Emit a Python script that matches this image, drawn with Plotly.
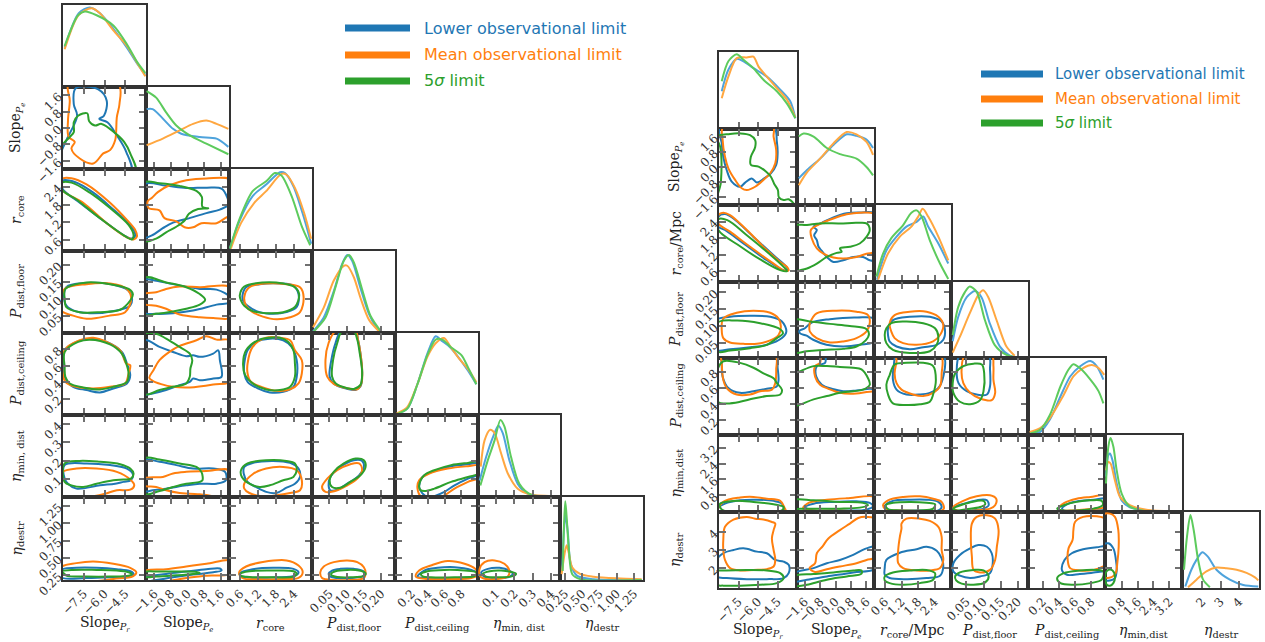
import plotly.graph_objects as go

W, H = 1265, 642

# ---------------- axis labels / ranges / ticks ----------------
LABELS_L = ["Slope<sub><i>P<sub>r</sub></i></sub>", "Slope<sub><i>P<sub>e</sub></i></sub>",
            "<i>r</i><sub>core</sub>", "<i>P</i><sub>dist,floor</sub>", "<i>P</i><sub>dist,ceiling</sub>",
            "<i>η</i><sub>min, dist</sub>", "<i>η</i><sub>destr</sub>"]
LABELS_R = ["Slope<sub><i>P<sub>r</sub></i></sub>", "Slope<sub><i>P<sub>e</sub></i></sub>",
            "<i>r</i><sub>core</sub>/Mpc", "<i>P</i><sub>dist,floor</sub>", "<i>P</i><sub>dist,ceiling</sub>",
            "<i>η</i><sub>min,dist</sub>", "<i>η</i><sub>destr</sub>"]

RANGES_L = [[-9, -3], [-2, 2], [0.23, 3.0], [0.0, 0.24], [0.0, 1.0], [0.0, 0.45], [0.18, 1.38]]
RANGES_R = [[-9, -3], [-2, 2], [0.2, 3.0], [0.005, 0.23], [0.02, 0.97], [-0.04, 3.84], [0.9, 5.1]]

TICKS_SLOPE_PR = [-7.5, -6.0, -4.5]
TICKTXT_SLOPE_PR = ["−7.5", "−6.0", "−4.5"]
TICKS_SLOPE_PE = [-1.6, -0.8, 0.0, 0.8, 1.6]
TICKTXT_SLOPE_PE = ["−1.6", "−0.8", "0.0", "0.8", "1.6"]
TICKS_RCORE = [0.6, 1.2, 1.8, 2.4]
TICKTXT_RCORE = ["0.6", "1.2", "1.8", "2.4"]
TICKS_PFLOOR = [0.05, 0.10, 0.15, 0.20]
TICKTXT_PFLOOR = ["0.05", "0.10", "0.15", "0.20"]
TICKS_PCEIL = [0.2, 0.4, 0.6, 0.8]
TICKTXT_PCEIL = ["0.2", "0.4", "0.6", "0.8"]
TICKS_ETAMIN_L = [0.1, 0.2, 0.3, 0.4]
TICKTXT_ETAMIN_L = ["0.1", "0.2", "0.3", "0.4"]
TICKS_ETADESTR_L = [0.25, 0.50, 0.75, 1.00, 1.25]
TICKTXT_ETADESTR_L = ["0.25", "0.50", "0.75", "1.00", "1.25"]
TICKS_ETAMIN_R = [0.8, 1.6, 2.4, 3.2]
TICKTXT_ETAMIN_R = ["0.8", "1.6", "2.4", "3.2"]
TICKS_ETADESTR_R = [2, 3, 4]
TICKTXT_ETADESTR_R = ["2", "3", "4"]

TICKS_L = [(TICKS_SLOPE_PR, TICKTXT_SLOPE_PR), (TICKS_SLOPE_PE, TICKTXT_SLOPE_PE), (TICKS_RCORE, TICKTXT_RCORE),
           (TICKS_PFLOOR, TICKTXT_PFLOOR), (TICKS_PCEIL, TICKTXT_PCEIL), (TICKS_ETAMIN_L, TICKTXT_ETAMIN_L),
           (TICKS_ETADESTR_L, TICKTXT_ETADESTR_L)]
TICKS_R = [(TICKS_SLOPE_PR, TICKTXT_SLOPE_PR), (TICKS_SLOPE_PE, TICKTXT_SLOPE_PE), (TICKS_RCORE, TICKTXT_RCORE),
           (TICKS_PFLOOR, TICKTXT_PFLOOR), (TICKS_PCEIL, TICKTXT_PCEIL), (TICKS_ETAMIN_R, TICKTXT_ETAMIN_R),
           (TICKS_ETADESTR_R, TICKTXT_ETADESTR_R)]

SERIES = ["blue", "orange", "green"]
LEGEND_TEXT = ["Lower observational limit", "Mean observational limit", "5<i>σ</i> limit"]

# ---------------- 1D marginal densities (x values, density) ----------------
L_d0 = {"blue": ([-8.88, -7.86, -7.06, -6.33, -5.36, -4.38, -3.66, -3.05], [0.48, 0.90, 0.97, 0.90, 0.71, 0.48, 0.29, 0.15]),
        "orange": ([-8.88, -7.86, -6.94, -6.33, -5.36, -4.38, -3.66, -3.05], [0.46, 0.88, 0.96, 0.90, 0.69, 0.50, 0.30, 0.13]),
        "green": ([-8.88, -7.91, -7.42, -6.57, -5.36, -4.38, -3.66, -3.05], [0.50, 0.875, 0.92, 0.875, 0.75, 0.52, 0.31, 0.17])}
L_d1 = {"blue": ([-1.97, -1.68, -0.70, -0.30, 0.59, 1.40, 1.97], [0.73, 0.73, 0.49, 0.43, 0.39, 0.37, 0.27]),
        "orange": ([-1.97, -1.19, -0.38, 0.27, 0.91, 1.40, 1.97], [0.29, 0.37, 0.47, 0.55, 0.59, 0.55, 0.49]),
        "green": ([-1.97, -1.51, -1.03, -0.54, 0.11, 0.91, 1.97], [0.95, 0.87, 0.69, 0.53, 0.41, 0.31, 0.18])}
L_d2 = {"blue": ([0.26, 0.57, 1.02, 1.47, 1.93, 2.10, 2.38, 2.72, 2.97], [0.03, 0.36, 0.67, 0.81, 0.96, 0.95, 0.79, 0.42, 0.09]),
        "orange": ([0.29, 0.63, 1.08, 1.47, 1.98, 2.15, 2.43, 2.74, 2.97], [0.03, 0.34, 0.59, 0.73, 0.94, 0.93, 0.77, 0.46, 0.15]),
        "green": ([0.26, 0.57, 1.02, 1.47, 1.76, 1.98, 2.32, 2.66, 2.94], [0.03, 0.38, 0.73, 0.85, 0.95, 0.92, 0.67, 0.30, 0.07])}
L_d3 = {"blue": ([0.003, 0.034, 0.063, 0.087, 0.102, 0.116, 0.140, 0.165, 0.194, 0.213], [0.02, 0.19, 0.51, 0.84, 0.95, 0.88, 0.55, 0.23, 0.03, 0.0]),
        "orange": ([0.003, 0.034, 0.063, 0.092, 0.102, 0.121, 0.140, 0.165, 0.194], [0.07, 0.31, 0.64, 0.82, 0.82, 0.68, 0.43, 0.16, 0.02]),
        "green": ([0.003, 0.039, 0.068, 0.092, 0.107, 0.121, 0.145, 0.169, 0.199], [0.01, 0.19, 0.56, 0.88, 0.95, 0.86, 0.53, 0.21, 0.02])}
L_d4 = {"blue": ([0.02, 0.15, 0.27, 0.39, 0.49, 0.57, 0.66, 0.76, 0.88, 0.98], [0.01, 0.08, 0.375, 0.75, 0.96, 0.90, 0.83, 0.71, 0.54, 0.375]),
        "orange": ([0.02, 0.15, 0.27, 0.39, 0.49, 0.59, 0.67, 0.77, 0.88, 0.98], [0.02, 0.10, 0.375, 0.71, 0.875, 0.94, 0.83, 0.69, 0.56, 0.40]),
        "green": ([0.02, 0.15, 0.27, 0.39, 0.49, 0.57, 0.67, 0.80, 0.88, 0.98], [0.01, 0.08, 0.375, 0.73, 0.92, 0.92, 0.83, 0.73, 0.58, 0.375])}
L_d5 = {"blue": ([0.009, 0.045, 0.082, 0.112, 0.136, 0.172, 0.218, 0.272, 0.345, 0.445], [0.20, 0.49, 0.73, 0.87, 0.78, 0.45, 0.16, 0.04, 0.01, 0.0]),
        "orange": ([0.015, 0.036, 0.067, 0.091, 0.127, 0.163, 0.218, 0.29, 0.445], [0.37, 0.69, 0.82, 0.78, 0.53, 0.29, 0.10, 0.03, 0.01]),
        "green": ([0.013, 0.054, 0.091, 0.123, 0.145, 0.181, 0.227, 0.29, 0.445], [0.14, 0.45, 0.69, 0.94, 0.86, 0.49, 0.16, 0.03, 0.0])}
L_d6 = {"blue": ([0.213, 0.237, 0.261, 0.295, 0.333, 0.428, 0.667, 1.36], [0.11, 0.60, 0.78, 0.56, 0.20, 0.05, 0.01, 0.0]),
        "orange": ([0.204, 0.247, 0.276, 0.309, 0.357, 0.476, 0.667, 1.0, 1.36], [0.07, 0.32, 0.42, 0.32, 0.15, 0.07, 0.04, 0.02, 0.01]),
        "green": ([0.218, 0.237, 0.256, 0.276, 0.309, 0.357, 0.476, 1.36], [0.11, 0.64, 0.95, 0.76, 0.36, 0.07, 0.01, 0.0])}

R_d0 = {"blue": ([-8.79, -8.28, -7.64, -7.12, -6.35, -5.32, -4.29, -3.52, -3.13], [0.49, 0.77, 0.91, 0.88, 0.79, 0.68, 0.51, 0.36, 0.14]),
        "orange": ([-8.79, -8.28, -7.64, -6.86, -6.35, -5.96, -5.32, -4.55, -3.77, -3.13], [0.40, 0.68, 0.92, 0.93, 0.94, 0.81, 0.68, 0.53, 0.38, 0.15]),
        "green": ([-8.79, -8.28, -7.64, -7.12, -6.35, -5.58, -4.55, -3.77, -3.13], [0.62, 0.88, 0.97, 0.90, 0.79, 0.64, 0.49, 0.33, 0.14])}
R_d1 = {"blue": ([-1.91, -1.48, -0.80, -0.11, 0.58, 1.09, 1.61, 1.95], [0.35, 0.46, 0.61, 0.79, 0.93, 0.91, 0.86, 0.75]),
        "orange": ([-1.91, -1.48, -0.80, -0.11, 0.58, 1.09, 1.61, 1.95], [0.26, 0.43, 0.61, 0.81, 0.96, 0.93, 0.83, 0.66]),
        "green": ([-1.91, -1.66, -1.14, -0.45, 0.23, 1.09, 1.61, 1.95], [0.90, 0.94, 0.90, 0.75, 0.67, 0.61, 0.50, 0.39])}
R_d2 = {"blue": ([0.31, 0.65, 1.02, 1.38, 1.75, 1.99, 2.17, 2.54, 2.90], [0.03, 0.41, 0.59, 0.72, 0.78, 0.85, 0.72, 0.50, 0.24]),
        "orange": ([0.35, 0.71, 1.14, 1.56, 1.81, 1.97, 2.17, 2.54, 2.90], [0.03, 0.37, 0.59, 0.72, 0.85, 0.95, 0.85, 0.59, 0.28]),
        "green": ([0.29, 0.53, 0.83, 1.26, 1.56, 1.75, 1.93, 2.23, 2.60, 2.90], [0.07, 0.37, 0.57, 0.74, 0.90, 0.93, 0.85, 0.54, 0.24, 0.04])}
R_d3 = {"blue": ([0.010, 0.026, 0.051, 0.075, 0.094, 0.118, 0.148, 0.177, 0.196], [0.22, 0.54, 0.80, 0.88, 0.80, 0.46, 0.15, 0.03, 0.01]),
        "orange": ([0.010, 0.031, 0.060, 0.085, 0.099, 0.114, 0.138, 0.167, 0.191], [0.07, 0.28, 0.59, 0.83, 0.89, 0.80, 0.50, 0.15, 0.03]),
        "green": ([0.010, 0.026, 0.046, 0.060, 0.080, 0.104, 0.133, 0.167, 0.191], [0.30, 0.67, 0.87, 0.94, 0.87, 0.50, 0.17, 0.04, 0.01])}
R_d4 = {"blue": ([0.05, 0.17, 0.29, 0.42, 0.54, 0.66, 0.79, 0.87, 0.95], [0.02, 0.04, 0.20, 0.50, 0.76, 0.89, 0.96, 0.89, 0.72]),
        "orange": ([0.04, 0.17, 0.29, 0.46, 0.58, 0.70, 0.81, 0.89, 0.96], [0.04, 0.09, 0.22, 0.52, 0.76, 0.87, 0.91, 0.87, 0.78]),
        "green": ([0.05, 0.17, 0.29, 0.42, 0.52, 0.58, 0.66, 0.79, 0.89, 0.95], [0.02, 0.07, 0.26, 0.63, 0.85, 0.92, 0.87, 0.72, 0.57, 0.41])}
R_d5 = {"blue": ([0.01, 0.13, 0.21, 0.34, 0.55, 0.80, 1.21, 2.05, 3.39], [0.46, 0.74, 0.76, 0.67, 0.37, 0.15, 0.06, 0.02, 0.004]),
        "orange": ([0.01, 0.13, 0.24, 0.46, 0.71, 1.21, 2.05, 3.39], [0.54, 0.65, 0.63, 0.41, 0.20, 0.09, 0.03, 0.01]),
        "green": ([0.01, 0.13, 0.24, 0.38, 0.55, 0.80, 1.21, 2.05], [0.37, 0.85, 0.96, 0.85, 0.54, 0.24, 0.07, 0.01])}
R_d6 = {"blue": ([1.08, 1.41, 1.69, 2.01, 2.32, 2.78, 3.51, 4.24, 5.06], [0.02, 0.24, 0.37, 0.47, 0.41, 0.24, 0.11, 0.04, 0.02]),
        "orange": ([1.23, 1.69, 2.23, 2.78, 3.33, 3.88, 4.42, 4.88, 5.06], [0.01, 0.11, 0.22, 0.27, 0.26, 0.24, 0.20, 0.14, 0.10]),
        "green": ([1.01, 1.17, 1.36, 1.54, 1.78, 2.05, 2.42], [0.24, 0.67, 0.96, 0.76, 0.37, 0.11, 0.01])}

# ---------------- 2D credible contours (x, y) per panel (row param vs column param) ----------------
L_c_1_0 = {"blue": [(-8.08, 1.94), (-6.45, 1.89), (-5.84, 1.33), (-6.04, 0.60), (-6.38, 0.44), (-5.79, 0.28), (-5.11, -0.36), (-4.43, -1.16), (-4.09, -2.21), (-9.24, -2.21), (-9.24, -1.41), (-8.76, -0.60), (-7.98, 0.60), (-8.22, 1.16)],
           "orange": [(-8.59, 2.13), (-8.51, 1.33), (-8.64, 0.36), (-8.59, -0.44), (-8.15, -0.68), (-8.39, -1.0), (-7.79, -1.49), (-6.81, -1.73), (-6.09, -1.24), (-5.60, -1.08), (-5.23, -0.60), (-5.16, -0.20), (-5.11, 0.52), (-4.92, 1.16), (-4.99, 2.13)],
           "green": [(-9.12, -0.92), (-8.51, -0.44), (-8.22, -0.20), (-8.22, 0.28), (-7.91, 0.60), (-7.25, 0.72), (-7.11, 0.33), (-6.69, 0.12), (-6.21, 0.20), (-5.23, -0.25), (-4.58, -0.68), (-4.14, -1.24), (-3.78, -2.21), (-9.12, -2.21)]}
L_c_2_0 = {"blue": [(-9.05, 2.60), (-8.15, 2.56), (-6.81, 2.20), (-5.36, 1.63), (-4.14, 1.11), (-3.78, 0.77), (-4.02, 0.65), (-4.63, 0.77), (-6.33, 1.34), (-7.79, 1.86), (-9.05, 2.34)],
           "orange": [(-9.1, 2.66), (-8.39, 2.69), (-7.30, 2.48), (-5.60, 1.86), (-4.38, 1.28), (-3.78, 0.94), (-3.66, 0.71), (-3.90, 0.62), (-4.38, 0.69), (-5.84, 1.17), (-7.54, 1.86), (-9.1, 2.31)],
           "green": [(-9.05, 2.54), (-8.39, 2.54), (-7.06, 2.20), (-5.60, 1.68), (-4.26, 1.11), (-3.90, 0.77), (-4.02, 0.62), (-4.51, 0.73), (-6.33, 1.34), (-8.03, 1.97), (-9.05, 2.29)]}
L_c_2_1 = {"blue": [(-2.08, 2.48), (-1.03, 2.43), (-0.06, 2.36), (0.91, 2.37), (1.64, 2.34), (1.92, 2.03), (1.98, 1.80), (1.56, 1.63), (0.91, 1.51), (-0.06, 1.31), (-0.70, 1.19), (-1.19, 1.00), (-1.68, 0.77), (-2.08, 0.69)],
           "orange": [(2.21, 2.60), (0.91, 2.68), (-0.06, 2.62), (-0.87, 2.45), (-1.43, 2.22), (-1.71, 2.03), (-1.92, 1.91), (-1.87, 1.68), (-1.35, 1.60), (-1.11, 1.34), (-0.54, 1.23), (-0.14, 1.03), (0.27, 1.03), (0.67, 1.17), (1.40, 1.17), (1.89, 1.37), (2.21, 1.45)],
           "green": [(-2.08, 2.54), (-1.35, 2.52), (-0.38, 2.43), (0.43, 2.26), (0.69, 2.06), (0.72, 1.72), (1.00, 1.67), (0.51, 1.65), (0.07, 1.49), (-0.14, 1.26), (-0.54, 1.05), (-1.03, 0.86), (-1.51, 0.65), (-2.08, 0.57)]}
L_c_3_0 = {"blue": [(-8.83, 0.085), (-8.76, 0.134), (-7.30, 0.146), (-5.60, 0.143), (-4.26, 0.124), (-4.02, 0.105), (-4.14, 0.080), (-5.11, 0.066), (-7.06, 0.058), (-8.27, 0.066)],
           "orange": [(-9.12, 0.10), (-8.88, 0.129), (-7.30, 0.143), (-5.60, 0.145), (-4.38, 0.129), (-4.07, 0.100), (-4.51, 0.061), (-5.60, 0.051), (-6.57, 0.044), (-7.30, 0.042), (-8.27, 0.051), (-9.12, 0.065)],
           "green": [(-8.83, 0.129), (-7.30, 0.148), (-5.60, 0.143), (-4.26, 0.129), (-3.95, 0.114), (-4.14, 0.095), (-4.87, 0.068), (-6.33, 0.061), (-7.79, 0.061), (-8.76, 0.076), (-8.88, 0.10)]}
L_c_3_1 = {"blue": [(-2.08, 0.155), (-1.51, 0.153), (-0.70, 0.143), (0.59, 0.129), (1.40, 0.127), (2.05, 0.105), (2.05, 0.090), (1.40, 0.083), (0.27, 0.066), (-0.70, 0.058), (-1.51, 0.056), (-2.08, 0.060)],
           "orange": [(-2.08, 0.114), (-1.51, 0.119), (-1.03, 0.129), (-0.38, 0.136), (0.59, 0.134), (2.13, 0.132), (2.13, 0.046), (1.24, 0.044), (0.59, 0.046), (-0.38, 0.054), (-1.03, 0.071), (-1.51, 0.080), (-2.08, 0.085)],
           "green": [(-2.08, 0.161), (-1.03, 0.148), (-0.06, 0.134), (0.59, 0.114), (0.85, 0.097), (0.59, 0.083), (-0.06, 0.071), (-0.70, 0.063), (-1.51, 0.056), (-2.08, 0.054)]}
L_c_3_2 = {"blue": [(0.68, 0.110), (0.80, 0.134), (1.25, 0.143), (1.93, 0.145), (2.38, 0.138), (2.55, 0.114), (2.49, 0.076), (2.15, 0.061), (1.70, 0.056), (1.25, 0.061), (0.85, 0.080), (0.70, 0.095)],
           "orange": [(0.74, 0.105), (0.91, 0.134), (1.47, 0.145), (2.15, 0.143), (2.60, 0.134), (2.72, 0.105), (2.60, 0.061), (2.27, 0.046), (1.81, 0.040), (1.36, 0.048), (1.02, 0.061), (0.80, 0.080)],
           "green": [(0.59, 0.110), (0.74, 0.136), (1.36, 0.148), (2.04, 0.145), (2.43, 0.134), (2.57, 0.114), (2.43, 0.076), (2.04, 0.061), (1.47, 0.058), (1.02, 0.064), (0.74, 0.080), (0.63, 0.095)]}
L_c_4_0 = {"blue": [(-8.88, 0.789), (-8.03, 0.891), (-7.06, 0.931), (-5.84, 0.891), (-4.75, 0.769), (-4.38, 0.628), (-4.14, 0.486), (-4.38, 0.385), (-5.36, 0.324), (-6.33, 0.275), (-7.30, 0.304), (-8.27, 0.344), (-8.83, 0.445), (-8.95, 0.587)],
           "orange": [(-8.88, 0.789), (-7.79, 0.911), (-6.81, 0.943), (-5.84, 0.891), (-4.87, 0.789), (-4.43, 0.628), (-4.14, 0.607), (-4.26, 0.506), (-4.51, 0.385), (-5.60, 0.344), (-6.81, 0.324), (-8.03, 0.344), (-8.83, 0.405)],
           "green": [(-8.88, 0.769), (-7.91, 0.891), (-7.06, 0.919), (-5.60, 0.862), (-4.75, 0.749), (-4.43, 0.628), (-4.26, 0.506), (-4.38, 0.405), (-5.36, 0.344), (-6.33, 0.312), (-7.54, 0.336), (-8.51, 0.385), (-8.83, 0.466), (-8.88, 0.587)]}
L_c_4_1 = {"blue": [(-2.08, 0.911), (-1.35, 0.830), (-0.70, 0.769), (-0.06, 0.717), (0.27, 0.729), (0.59, 0.709), (1.24, 0.749), (1.48, 0.789), (1.56, 0.668), (1.64, 0.466), (1.24, 0.445), (0.59, 0.425), (0.27, 0.445), (0.11, 0.405), (-0.38, 0.364), (-1.03, 0.304), (-1.68, 0.263), (-2.08, 0.255)],
           "orange": [(-1.84, 0.453), (-1.64, 0.547), (-1.35, 0.668), (-0.87, 0.769), (-0.38, 0.842), (0.43, 0.911), (0.91, 0.960), (1.40, 0.919), (2.13, 0.903), (2.13, 0.417), (1.24, 0.372), (0.11, 0.336), (-0.70, 0.344), (-1.27, 0.377), (-1.68, 0.417)],
           "green": [(-2.08, 0.984), (-1.51, 0.992), (-1.03, 0.931), (-0.38, 0.830), (0.11, 0.749), (0.23, 0.668), (0.14, 0.567), (0.11, 0.466), (-0.06, 0.385), (-0.70, 0.344), (-1.35, 0.304), (-2.08, 0.255)]}
L_c_4_2 = {"blue": [(0.74, 0.628), (0.85, 0.789), (1.13, 0.891), (1.59, 0.931), (2.04, 0.911), (2.32, 0.830), (2.49, 0.668), (2.49, 0.466), (2.38, 0.344), (2.04, 0.283), (1.59, 0.275), (1.19, 0.324), (0.85, 0.405), (0.74, 0.506)],
           "orange": [(0.85, 0.628), (1.02, 0.830), (1.47, 0.943), (1.93, 0.943), (2.27, 0.911), (2.43, 0.789), (2.66, 0.668), (2.66, 0.506), (2.55, 0.385), (2.27, 0.312), (1.81, 0.296), (1.36, 0.336), (0.96, 0.405), (0.85, 0.506)],
           "green": [(0.70, 0.628), (0.80, 0.789), (1.19, 0.911), (1.59, 0.943), (1.93, 0.943), (2.21, 0.891), (2.38, 0.789), (2.43, 0.628), (2.43, 0.466), (2.27, 0.344), (1.93, 0.304), (1.47, 0.312), (1.02, 0.385), (0.77, 0.486)]}
L_c_4_3 = {"blue": [(0.084, 1.02), (0.068, 0.878), (0.056, 0.673), (0.051, 0.469), (0.063, 0.380), (0.102, 0.318), (0.126, 0.306), (0.140, 0.347), (0.145, 0.510), (0.140, 0.755), (0.133, 0.918), (0.126, 1.02)],
           "orange": [(0.068, 1.02), (0.048, 0.878), (0.039, 0.673), (0.044, 0.469), (0.063, 0.380), (0.102, 0.327), (0.131, 0.314), (0.143, 0.388), (0.145, 0.551), (0.140, 0.755), (0.133, 0.918), (0.126, 1.02)],
           "green": [(0.087, 1.02), (0.073, 0.878), (0.061, 0.673), (0.058, 0.469), (0.068, 0.388), (0.102, 0.327), (0.121, 0.318), (0.140, 0.367), (0.145, 0.510), (0.138, 0.755), (0.131, 0.918), (0.121, 1.02)]}
L_c_5_0 = {"blue": [(-8.88, 0.175), (-7.30, 0.184), (-5.60, 0.175), (-4.38, 0.156), (-3.95, 0.125), (-4.09, 0.092), (-4.63, 0.083), (-5.23, 0.073), (-6.33, 0.064), (-8.03, 0.046), (-8.64, 0.073), (-8.88, 0.101)],
           "orange": [(-9.12, 0.132), (-8.03, 0.156), (-6.57, 0.156), (-5.11, 0.138), (-4.14, 0.096), (-3.85, 0.064), (-4.14, 0.040), (-5.11, 0.037), (-5.96, 0.018), (-6.81, 0.004), (-8.03, -0.009), (-9.12, -0.001)],
           "green": [(-8.88, 0.184), (-7.79, 0.198), (-6.33, 0.193), (-4.87, 0.180), (-4.14, 0.156), (-3.90, 0.129), (-4.09, 0.101), (-4.63, 0.096), (-5.36, 0.092), (-6.57, 0.073), (-7.54, 0.055), (-8.39, 0.064), (-8.88, 0.083)]}
L_c_5_1 = {"blue": [(-2.08, 0.202), (-1.35, 0.193), (-0.54, 0.175), (0.27, 0.156), (1.24, 0.156), (1.81, 0.138), (1.85, 0.092), (1.40, 0.073), (0.59, 0.073), (-0.06, 0.064), (-1.03, 0.046), (-1.68, 0.037), (-2.08, 0.033)],
           "orange": [(-2.08, 0.101), (-1.19, 0.110), (-0.70, 0.129), (-0.06, 0.138), (0.91, 0.143), (2.13, 0.143), (2.13, 0.009), (0.59, 0.015), (-0.38, 0.022), (-1.03, 0.037), (-1.51, 0.055), (-2.08, 0.064)],
           "green": [(-2.08, 0.211), (-1.35, 0.206), (-0.38, 0.184), (0.43, 0.165), (0.67, 0.138), (0.72, 0.092), (0.59, 0.083), (-0.06, 0.073), (-0.70, 0.055), (-1.35, 0.033), (-2.08, 0.018)]}
L_c_5_2 = {"blue": [(0.74, 0.165), (1.02, 0.187), (1.70, 0.198), (2.27, 0.187), (2.55, 0.156), (2.60, 0.110), (2.43, 0.073), (2.15, 0.051), (1.81, 0.022), (1.47, 0.028), (1.13, 0.055), (0.85, 0.083), (0.72, 0.129)],
           "orange": [(0.74, 0.073), (1.02, 0.125), (1.47, 0.156), (2.04, 0.165), (2.49, 0.147), (2.66, 0.092), (2.60, 0.037), (2.27, 0.022), (1.81, 0.009), (1.36, 0.004), (0.91, 0.022), (0.74, 0.046)],
           "green": [(0.63, 0.147), (0.85, 0.184), (1.47, 0.202), (2.15, 0.198), (2.43, 0.184), (2.49, 0.147), (2.38, 0.110), (2.04, 0.092), (1.59, 0.064), (1.25, 0.055), (0.91, 0.073), (0.66, 0.110)]}
L_c_5_3 = {"blue": [(0.048, 0.064), (0.053, 0.110), (0.082, 0.165), (0.121, 0.202), (0.145, 0.198), (0.150, 0.165), (0.136, 0.119), (0.102, 0.073), (0.073, 0.040), (0.053, 0.037)],
           "orange": [(0.029, 0.055), (0.044, 0.101), (0.073, 0.147), (0.111, 0.180), (0.136, 0.184), (0.145, 0.147), (0.131, 0.101), (0.102, 0.064), (0.073, 0.037), (0.039, 0.028)],
           "green": [(0.051, 0.092), (0.063, 0.138), (0.092, 0.184), (0.126, 0.211), (0.150, 0.202), (0.155, 0.165), (0.140, 0.119), (0.111, 0.083), (0.082, 0.051), (0.058, 0.055)]}
L_c_5_4 = {"blue": [(0.291, 0.055), (0.332, 0.110), (0.474, 0.143), (0.676, 0.169), (0.879, 0.180), (1.02, 0.184), (1.02, 0.129), (0.879, 0.101), (0.717, 0.064), (0.595, 0.028), (0.474, 0.005), (0.40, 0.0), (0.33, 0.02)],
           "orange": [(0.271, 0.046), (0.291, 0.092), (0.413, 0.129), (0.636, 0.156), (0.879, 0.169), (1.02, 0.173), (1.02, 0.110), (0.879, 0.083), (0.717, 0.046), (0.595, 0.009), (0.474, -0.009), (0.32, 0.0)],
           "green": [(0.291, 0.064), (0.352, 0.119), (0.474, 0.147), (0.676, 0.175), (0.879, 0.187), (1.02, 0.193), (1.02, 0.132), (0.879, 0.110), (0.676, 0.083), (0.474, 0.046), (0.352, 0.033), (0.304, 0.040)]}
L_c_6_0 = {"blue": [(-9.12, 0.326), (-8.03, 0.356), (-6.57, 0.356), (-5.11, 0.336), (-4.14, 0.307), (-3.90, 0.268), (-4.14, 0.239), (-5.60, 0.219), (-7.30, 0.209), (-9.12, 0.219)],
           "orange": [(-9.12, 0.365), (-8.03, 0.424), (-6.81, 0.448), (-5.36, 0.414), (-4.14, 0.356), (-3.70, 0.292), (-3.95, 0.234), (-5.36, 0.195), (-6.81, 0.16), (-9.12, 0.16)],
           "green": [(-9.12, 0.302), (-8.27, 0.326), (-6.57, 0.326), (-5.11, 0.317), (-4.26, 0.292), (-4.02, 0.268), (-4.26, 0.243), (-5.60, 0.229), (-7.30, 0.229), (-8.76, 0.243), (-8.88, 0.268)]}
L_c_6_1 = {"blue": [(-2.08, 0.209), (-1.03, 0.268), (-0.06, 0.302), (0.91, 0.336), (1.56, 0.346), (1.64, 0.317), (1.24, 0.292), (0.27, 0.258), (-0.70, 0.219), (-1.51, 0.18), (-2.08, 0.16)],
           "orange": [(-2.08, 0.302), (-1.03, 0.336), (-0.06, 0.375), (0.91, 0.414), (2.13, 0.458), (2.13, 0.278), (0.91, 0.243), (-0.06, 0.209), (-1.03, 0.16), (-2.08, 0.146)],
           "green": [(-2.08, 0.292), (-1.35, 0.302), (-0.38, 0.302), (0.43, 0.297), (0.59, 0.282), (0.27, 0.268), (-0.54, 0.248), (-1.51, 0.229), (-2.08, 0.229)]}
L_c_6_2 = {"blue": [(0.59, 0.278), (1.02, 0.336), (1.70, 0.356), (2.38, 0.341), (2.55, 0.292), (2.43, 0.243), (1.81, 0.219), (1.02, 0.214), (0.63, 0.239)],
           "orange": [(0.57, 0.292), (0.80, 0.375), (1.36, 0.439), (2.15, 0.463), (2.55, 0.390), (2.69, 0.292), (2.55, 0.209), (2.04, 0.195), (1.25, 0.190), (0.68, 0.209)],
           "green": [(0.59, 0.268), (0.91, 0.307), (1.70, 0.317), (2.38, 0.307), (2.49, 0.268), (2.38, 0.229), (1.70, 0.219), (0.91, 0.224), (0.63, 0.239)]}
L_c_6_3 = {"blue": [(0.048, 0.268), (0.058, 0.317), (0.082, 0.341), (0.121, 0.341), (0.145, 0.317), (0.155, 0.268), (0.145, 0.229), (0.111, 0.209), (0.073, 0.209), (0.053, 0.229)],
           "orange": [(0.024, 0.292), (0.034, 0.375), (0.063, 0.439), (0.102, 0.463), (0.131, 0.439), (0.150, 0.365), (0.155, 0.278), (0.150, 0.209), (0.111, 0.18), (0.063, 0.18), (0.029, 0.209)],
           "green": [(0.055, 0.268), (0.068, 0.307), (0.102, 0.326), (0.136, 0.317), (0.155, 0.278), (0.150, 0.239), (0.111, 0.219), (0.073, 0.224), (0.058, 0.243)]}
L_c_6_4 = {"blue": [(0.271, 0.229), (0.352, 0.317), (0.514, 0.356), (0.717, 0.365), (0.919, 0.326), (1.0, 0.278), (0.939, 0.229), (0.676, 0.209), (0.393, 0.209)],
           "orange": [(0.251, 0.229), (0.291, 0.317), (0.433, 0.390), (0.636, 0.453), (0.838, 0.414), (0.968, 0.341), (1.0, 0.258), (0.919, 0.209), (0.676, 0.195), (0.393, 0.195)],
           "green": [(0.312, 0.268), (0.393, 0.307), (0.595, 0.326), (0.838, 0.317), (0.980, 0.287), (0.960, 0.239), (0.717, 0.219), (0.433, 0.219), (0.332, 0.234)]}
L_c_6_5 = {"blue": [(0.018, 0.292), (0.054, 0.341), (0.118, 0.356), (0.172, 0.317), (0.191, 0.268), (0.163, 0.219), (0.091, 0.209), (0.033, 0.229)],
           "orange": [(0.009, 0.341), (0.036, 0.439), (0.091, 0.463), (0.145, 0.414), (0.172, 0.317), (0.163, 0.229), (0.109, 0.195), (0.045, 0.195), (0.013, 0.229)],
           "green": [(0.027, 0.268), (0.064, 0.307), (0.127, 0.317), (0.181, 0.297), (0.209, 0.268), (0.181, 0.229), (0.109, 0.219), (0.045, 0.229)]}

R_c_1_0 = {"blue": [(-8.92, 2.12), (-8.79, 1.25), (-8.67, 0.54), (-8.41, -0.16), (-8.02, -0.77), (-7.38, -1.04), (-6.99, -0.82), (-6.48, -0.60), (-6.09, -0.82), (-5.52, -0.60), (-5.01, -0.33), (-4.60, 0.11), (-4.49, 0.72), (-4.55, 1.33), (-4.80, 2.12)],
           "orange": [(-8.67, 2.12), (-8.72, 1.42), (-8.54, 0.54), (-8.28, -0.07), (-7.76, -0.68), (-7.25, -1.12), (-6.86, -1.21), (-6.22, -1.04), (-5.58, -0.68), (-5.06, -0.33), (-4.67, 0.19), (-4.60, 0.89), (-4.80, 1.60), (-4.85, 2.12)],
           "green": [(-9.18, 1.60), (-8.15, 1.74), (-7.38, 1.77), (-6.61, 1.68), (-6.22, 1.42), (-6.22, 1.04), (-6.55, 0.54), (-6.55, 0.11), (-5.96, 0.02), (-5.37, -0.25), (-5.01, -0.51), (-4.75, -0.89), (-4.47, -1.21), (-4.39, -1.60), (-4.03, -1.74), (-3.64, -1.70), (-3.0, -2.26), (-9.18, -2.26), (-8.85, -0.77), (-8.90, 1.04)]}
R_c_2_0 = {"blue": [(-9.05, 2.57), (-8.54, 2.67), (-7.89, 2.51), (-6.35, 1.84), (-4.80, 1.17), (-3.77, 0.72), (-3.77, 0.60), (-4.16, 0.65), (-5.32, 0.99), (-7.12, 1.60), (-8.54, 2.09), (-9.05, 2.21)],
           "orange": [(-9.05, 2.63), (-8.67, 2.72), (-8.15, 2.63), (-6.86, 2.09), (-5.32, 1.36), (-4.29, 0.93), (-3.77, 0.75), (-3.64, 0.63), (-3.90, 0.60), (-4.80, 0.87), (-6.61, 1.48), (-8.15, 2.03), (-9.05, 2.33)],
           "green": [(-9.05, 2.48), (-8.36, 2.45), (-6.86, 1.90), (-5.32, 1.30), (-4.03, 0.75), (-3.77, 0.60), (-4.29, 0.63), (-5.83, 1.02), (-7.38, 1.50), (-9.05, 2.09)]}
R_c_2_1 = {"blue": [(-1.14, 2.21), (-0.71, 2.35), (-0.11, 2.55), (0.58, 2.70), (1.26, 2.73), (2.12, 2.67), (2.12, 0.99), (1.78, 0.99), (1.43, 1.11), (0.92, 1.11), (0.40, 0.99), (-0.11, 0.93), (-0.45, 1.11), (-0.71, 1.33), (-0.88, 1.48), (-0.97, 1.72), (-1.11, 1.90), (-0.97, 2.09)],
           "orange": [(-1.28, 2.09), (-0.80, 2.31), (-0.11, 2.51), (0.58, 2.66), (1.26, 2.72), (2.12, 2.63), (2.12, 1.33), (1.61, 1.23), (1.09, 1.11), (0.40, 1.05), (-0.11, 1.09), (-0.63, 1.23), (-0.97, 1.42), (-1.23, 1.78)],
           "green": [(-2.17, 2.23), (-1.48, 2.27), (-0.80, 2.33), (0.23, 2.33), (1.09, 2.35), (1.61, 2.33), (1.78, 2.09), (1.61, 1.84), (1.26, 1.60), (0.75, 1.48), (0.23, 1.42), (0.32, 1.30), (0.06, 1.26), (-0.45, 1.11), (-0.97, 0.87), (-1.48, 0.69), (-1.83, 0.63), (-2.17, 0.60)]}
R_c_3_0 = {"blue": [(-9.18, 0.117), (-8.15, 0.127), (-6.61, 0.130), (-5.06, 0.127), (-4.16, 0.113), (-3.82, 0.083), (-4.16, 0.064), (-5.32, 0.044), (-6.61, 0.037), (-8.15, 0.031), (-9.18, 0.029)],
           "orange": [(-8.79, 0.088), (-8.67, 0.122), (-7.64, 0.139), (-6.35, 0.145), (-5.06, 0.139), (-4.42, 0.122), (-4.24, 0.098), (-4.42, 0.073), (-5.06, 0.057), (-6.09, 0.047), (-7.12, 0.047), (-8.15, 0.051), (-8.67, 0.064)],
           "green": [(-9.18, 0.108), (-7.64, 0.116), (-5.83, 0.108), (-4.29, 0.090), (-4.08, 0.078), (-4.55, 0.064), (-5.32, 0.044), (-6.61, 0.034), (-8.15, 0.027), (-9.18, 0.025)]}
R_c_3_1 = {"blue": [(-1.88, 0.085), (-1.59, 0.093), (-1.24, 0.110), (-0.29, 0.120), (1.09, 0.125), (2.12, 0.119), (2.12, 0.057), (1.26, 0.044), (0.40, 0.039), (-0.47, 0.044), (-1.16, 0.059), (-1.50, 0.071), (-1.84, 0.078)],
           "orange": [(-1.33, 0.108), (-0.98, 0.137), (0.05, 0.145), (1.09, 0.142), (1.69, 0.132), (1.78, 0.108), (1.60, 0.083), (1.09, 0.064), (0.40, 0.054), (-0.29, 0.051), (-0.98, 0.064), (-1.33, 0.083), (-1.36, 0.098)],
           "green": [(-2.19, 0.117), (-1.33, 0.113), (-0.29, 0.106), (0.74, 0.100), (1.60, 0.091), (1.74, 0.076), (1.57, 0.057), (1.09, 0.039), (0.40, 0.032), (-0.64, 0.029), (-1.50, 0.025), (-2.19, 0.022)]}
R_c_3_2 = {"blue": [(0.71, 0.093), (0.89, 0.117), (1.50, 0.127), (2.23, 0.127), (2.66, 0.113), (2.78, 0.088), (2.72, 0.059), (2.48, 0.044), (1.99, 0.037), (1.50, 0.031), (1.02, 0.039), (0.77, 0.054), (0.71, 0.073)],
           "orange": [(0.77, 0.108), (0.95, 0.132), (1.50, 0.142), (2.11, 0.142), (2.54, 0.127), (2.72, 0.103), (2.60, 0.073), (2.35, 0.054), (1.75, 0.044), (1.26, 0.049), (0.95, 0.064), (0.83, 0.083)],
           "green": [(0.65, 0.093), (0.83, 0.108), (1.26, 0.113), (1.99, 0.108), (2.42, 0.093), (2.54, 0.069), (2.48, 0.044), (2.23, 0.025), (1.50, 0.020), (0.89, 0.029), (0.65, 0.049), (0.59, 0.073)]}
R_c_4_0 = {"blue": [(-8.79, 1.0), (-8.79, 0.91), (-8.72, 0.74), (-8.28, 0.60), (-7.38, 0.54), (-6.35, 0.56), (-5.32, 0.59), (-4.55, 0.62), (-4.42, 0.70), (-4.49, 0.85), (-4.60, 1.0)],
           "orange": [(-8.79, 1.0), (-8.79, 0.91), (-8.67, 0.70), (-8.41, 0.60), (-7.64, 0.52), (-6.61, 0.52), (-5.83, 0.56), (-4.93, 0.58), (-4.67, 0.66), (-4.60, 0.83), (-4.67, 1.0)],
           "green": [(-9.1, 0.83), (-8.67, 0.93), (-7.38, 0.91), (-6.35, 0.85), (-5.58, 0.78), (-4.80, 0.72), (-4.55, 0.66), (-4.16, 0.58), (-4.29, 0.52), (-5.32, 0.50), (-6.35, 0.47), (-7.38, 0.43), (-8.41, 0.41), (-9.1, 0.43)]}
R_c_4_1 = {"blue": [(-0.45, 1.0), (-0.54, 0.91), (-0.97, 0.87), (-1.00, 0.74), (-0.71, 0.64), (-0.20, 0.59), (0.40, 0.56), (1.09, 0.57), (1.78, 0.59), (2.12, 0.59), (2.12, 1.0)],
           "orange": [(-0.71, 1.0), (-0.80, 0.91), (-1.06, 0.87), (-1.06, 0.74), (-0.80, 0.64), (-0.37, 0.59), (0.23, 0.54), (0.92, 0.53), (1.61, 0.55), (2.12, 0.58), (2.12, 1.0)],
           "green": [(-2.17, 0.78), (-1.91, 0.80), (-1.14, 0.87), (-0.45, 0.87), (0.23, 0.86), (0.92, 0.85), (1.35, 0.83), (1.69, 0.72), (1.78, 0.64), (1.43, 0.58), (0.92, 0.56), (0.23, 0.54), (-0.45, 0.50), (-1.14, 0.46), (-1.91, 0.39), (-2.17, 0.38)]}
R_c_4_2 = {"blue": [(1.02, 1.0), (0.92, 0.87), (0.89, 0.70), (1.02, 0.58), (1.38, 0.52), (1.87, 0.52), (2.23, 0.54), (2.54, 0.60), (2.72, 0.74), (2.72, 1.0)],
           "orange": [(1.02, 1.0), (1.02, 0.93), (0.95, 0.78), (1.02, 0.66), (1.20, 0.58), (1.62, 0.52), (1.99, 0.50), (2.35, 0.54), (2.60, 0.62), (2.66, 0.78), (2.63, 1.0)],
           "green": [(0.77, 0.76), (0.95, 0.89), (1.38, 0.91), (1.99, 0.91), (2.35, 0.87), (2.45, 0.70), (2.35, 0.52), (2.23, 0.43), (1.87, 0.40), (1.38, 0.39), (0.89, 0.41), (0.71, 0.52), (0.65, 0.64)]}
R_c_4_3 = {"blue": [(0.031, 1.0), (0.022, 0.85), (0.027, 0.66), (0.051, 0.56), (0.080, 0.52), (0.110, 0.52), (0.119, 0.62), (0.119, 0.83), (0.115, 1.0)],
           "orange": [(0.046, 1.0), (0.036, 0.83), (0.041, 0.66), (0.061, 0.54), (0.090, 0.47), (0.124, 0.45), (0.134, 0.54), (0.129, 0.70), (0.129, 0.87), (0.124, 1.0)],
           "green": [(0.010, 0.66), (0.017, 0.78), (0.041, 0.87), (0.071, 0.90), (0.095, 0.89), (0.102, 0.78), (0.100, 0.56), (0.090, 0.45), (0.061, 0.40), (0.031, 0.43), (0.012, 0.54)]}
R_c_5_0 = {"blue": [(-9.18, 0.10), (-8.54, 0.38), (-7.38, 0.55), (-6.09, 0.58), (-4.80, 0.52), (-4.16, 0.38), (-3.98, 0.04), (-3.90, -0.21), (-9.18, -0.21)],
           "orange": [(-9.18, -0.04), (-8.67, 0.47), (-7.38, 0.69), (-6.35, 0.72), (-5.32, 0.63), (-4.29, 0.52), (-3.98, 0.21), (-3.82, -0.21), (-9.18, -0.21)],
           "green": [(-8.92, 0.38), (-7.89, 0.52), (-6.35, 0.47), (-4.80, 0.35), (-4.03, 0.21), (-4.16, 0.04), (-5.32, -0.04), (-7.38, -0.01), (-8.67, 0.04), (-8.92, 0.21)]}
R_c_5_1 = {"blue": [(-1.57, 0.21), (-1.14, 0.38), (-0.11, 0.47), (1.09, 0.50), (1.78, 0.42), (1.95, 0.25), (1.61, 0.08), (0.23, 0.04), (-1.14, 0.04)],
           "orange": [(-1.69, 0.13), (-1.40, 0.42), (-0.45, 0.58), (0.58, 0.65), (2.12, 0.69), (2.12, 0.04), (0.23, 0.04), (-1.14, 0.04)],
           "green": [(-2.17, 0.55), (-1.14, 0.55), (0.23, 0.47), (1.43, 0.42), (1.69, 0.30), (1.26, 0.18), (0.23, 0.13), (-0.97, 0.13), (-1.83, 0.13), (-2.17, 0.13)]}
R_c_5_2 = {"blue": [(0.59, 0.25), (0.89, 0.52), (1.50, 0.58), (2.11, 0.58), (2.54, 0.47), (2.66, 0.21), (2.54, 0.04), (1.87, 0.04), (1.14, 0.04), (0.65, 0.08)],
           "orange": [(0.53, 0.30), (0.71, 0.55), (1.26, 0.72), (1.87, 0.75), (2.35, 0.63), (2.66, 0.47), (2.74, 0.13), (2.60, 0.01), (1.99, 0.01), (1.14, 0.04), (0.65, 0.08)],
           "green": [(0.63, 0.30), (0.89, 0.42), (1.50, 0.47), (2.11, 0.43), (2.42, 0.35), (2.35, 0.13), (1.87, 0.04), (1.14, 0.04), (0.71, 0.11)]}
R_c_5_3 = {"blue": [(0.012, 0.18), (0.051, 0.42), (0.090, 0.58), (0.110, 0.55), (0.115, 0.30), (0.100, 0.13), (0.061, 0.04), (0.022, 0.01)],
           "orange": [(0.012, 0.21), (0.041, 0.52), (0.080, 0.75), (0.119, 0.80), (0.137, 0.63), (0.134, 0.30), (0.119, 0.13), (0.071, 0.04), (0.027, 0.01)],
           "green": [(0.012, 0.13), (0.041, 0.35), (0.080, 0.52), (0.100, 0.52), (0.105, 0.35), (0.090, 0.21), (0.051, 0.10), (0.022, 0.04)]}
R_c_5_4 = {"blue": [(0.44, 0.13), (0.52, 0.38), (0.66, 0.52), (0.83, 0.58), (0.99, 0.62), (0.99, 0.13), (0.79, 0.04), (0.58, 0.01), (0.46, 0.04)],
           "orange": [(0.40, 0.13), (0.47, 0.42), (0.62, 0.63), (0.79, 0.72), (0.99, 0.79), (0.99, 0.25), (0.79, 0.11), (0.58, 0.04), (0.43, 0.04)],
           "green": [(0.38, 0.13), (0.46, 0.30), (0.62, 0.47), (0.79, 0.55), (0.93, 0.52), (0.94, 0.30), (0.83, 0.13), (0.62, 0.04), (0.44, 0.04)]}
R_c_6_0 = {"blue": [(-9.18, 2.45), (-8.67, 2.82), (-7.89, 3.00), (-7.12, 3.09), (-6.09, 2.91), (-5.32, 2.82), (-4.67, 2.45), (-4.03, 2.36), (-3.64, 2.18), (-3.64, 1.72), (-4.03, 1.45), (-5.32, 1.39), (-6.86, 1.39), (-8.41, 1.45), (-9.18, 1.54)],
           "orange": [(-8.54, 4.28), (-7.89, 4.68), (-6.86, 4.83), (-6.22, 4.73), (-5.58, 4.68), (-4.93, 4.55), (-4.67, 4.46), (-4.80, 4.10), (-4.93, 3.64), (-4.80, 3.00), (-4.67, 2.45), (-4.80, 2.09), (-5.32, 1.94), (-6.35, 1.90), (-7.38, 1.87), (-8.15, 2.00), (-8.54, 2.45), (-8.67, 3.00), (-8.67, 3.55)],
           "green": [(-9.18, 1.81), (-8.41, 1.87), (-6.86, 1.90), (-5.32, 1.87), (-4.29, 1.72), (-4.03, 1.45), (-4.55, 1.17), (-5.83, 1.08), (-7.38, 1.03), (-8.67, 1.03), (-9.18, 1.08)]}
R_c_6_1 = {"blue": [(-2.17, 1.69), (-1.14, 2.00), (-0.45, 2.27), (0.23, 2.45), (0.92, 2.73), (1.61, 3.09), (2.12, 3.18), (2.12, 2.00), (0.92, 1.76), (-0.45, 1.54), (-1.48, 1.36), (-2.17, 1.27)],
           "orange": [(-1.35, 2.00), (-1.06, 2.27), (-0.97, 2.82), (-0.66, 3.22), (-0.37, 3.64), (0.23, 4.10), (0.75, 4.46), (1.18, 4.77), (1.61, 4.83), (2.12, 4.68), (2.12, 2.63), (1.61, 2.45), (1.09, 2.27), (0.23, 2.09), (-0.45, 1.94), (-1.06, 1.79)],
           "green": [(-2.17, 1.54), (-1.14, 1.67), (-0.11, 1.76), (0.92, 1.87), (1.35, 1.87), (1.35, 1.69), (0.58, 1.54), (-0.45, 1.36), (-1.48, 1.08), (-2.0, 0.99), (-2.17, 0.99)]}
R_c_6_2 = {"blue": [(0.59, 2.00), (0.65, 2.45), (1.14, 2.85), (1.75, 3.04), (2.11, 3.18), (2.48, 2.96), (2.66, 2.54), (2.72, 2.09), (2.60, 1.58), (2.11, 1.45), (1.38, 1.39), (0.77, 1.45), (0.59, 1.63)],
           "orange": [(1.20, 4.46), (1.38, 4.73), (1.87, 4.73), (2.23, 4.61), (2.54, 4.28), (2.66, 3.73), (2.66, 3.00), (2.72, 2.45), (2.60, 2.00), (2.23, 1.87), (1.75, 1.87), (1.26, 2.00), (1.08, 2.27), (1.08, 3.00), (1.14, 3.73), (1.20, 4.19)],
           "green": [(0.59, 1.54), (0.89, 1.76), (1.50, 1.87), (2.11, 1.90), (2.42, 1.72), (2.35, 1.36), (1.87, 1.17), (1.26, 1.08), (0.77, 1.17), (0.59, 1.32)]}
R_c_6_3 = {"blue": [(0.012, 2.27), (0.031, 2.73), (0.061, 3.09), (0.085, 3.27), (0.110, 3.18), (0.124, 2.82), (0.127, 2.27), (0.119, 1.72), (0.090, 1.54), (0.061, 1.45), (0.031, 1.58), (0.012, 1.81)],
           "orange": [(0.066, 4.46), (0.080, 4.83), (0.110, 4.92), (0.134, 4.73), (0.144, 4.10), (0.139, 3.18), (0.134, 2.45), (0.119, 1.90), (0.090, 1.76), (0.071, 1.90), (0.066, 2.64), (0.063, 3.55)],
           "green": [(0.017, 1.54), (0.031, 1.76), (0.071, 1.90), (0.100, 1.87), (0.115, 1.54), (0.105, 1.21), (0.071, 1.08), (0.036, 1.14), (0.020, 1.32)]}
R_c_6_4 = {"blue": [(0.44, 1.87), (0.47, 2.45), (0.56, 2.82), (0.70, 3.04), (0.87, 3.15), (1.0, 3.18), (1.0, 1.94), (0.83, 1.76), (0.66, 1.67), (0.50, 1.63)],
           "orange": [(0.60, 4.55), (0.70, 4.83), (0.87, 4.86), (0.97, 4.73), (1.0, 4.10), (1.0, 2.27), (0.95, 2.09), (0.83, 1.90), (0.66, 1.87), (0.54, 2.00), (0.51, 2.45), (0.52, 3.09), (0.57, 3.55), (0.58, 4.10)],
           "green": [(0.38, 1.45), (0.46, 1.72), (0.66, 1.87), (0.87, 1.90), (0.95, 1.81), (0.93, 1.36), (0.79, 1.17), (0.58, 1.08), (0.42, 1.17)]}
R_c_6_5 = {"blue": [(-0.12, 3.27), (0.13, 3.37), (0.38, 3.09), (0.51, 2.45), (0.55, 1.90), (0.46, 1.45), (0.21, 1.32), (-0.12, 1.36)],
           "orange": [(-0.12, 4.95), (0.21, 5.01), (0.46, 4.83), (0.63, 4.10), (0.65, 3.18), (0.58, 2.27), (0.50, 1.72), (0.29, 1.50), (-0.12, 1.54)],
           "green": [(-0.01, 1.72), (0.13, 1.90), (0.34, 1.87), (0.46, 1.54), (0.38, 1.17), (0.21, 1.03), (0.05, 1.08), (-0.02, 1.36)]}

DIAG_L = [L_d0, L_d1, L_d2, L_d3, L_d4, L_d5, L_d6]
DIAG_R = [R_d0, R_d1, R_d2, R_d3, R_d4, R_d5, R_d6]
CONT_L = {(1, 0): L_c_1_0, (2, 0): L_c_2_0, (2, 1): L_c_2_1, (3, 0): L_c_3_0, (3, 1): L_c_3_1, (3, 2): L_c_3_2,
          (4, 0): L_c_4_0, (4, 1): L_c_4_1, (4, 2): L_c_4_2, (4, 3): L_c_4_3, (5, 0): L_c_5_0, (5, 1): L_c_5_1,
          (5, 2): L_c_5_2, (5, 3): L_c_5_3, (5, 4): L_c_5_4, (6, 0): L_c_6_0, (6, 1): L_c_6_1, (6, 2): L_c_6_2,
          (6, 3): L_c_6_3, (6, 4): L_c_6_4, (6, 5): L_c_6_5}
CONT_R = {(1, 0): R_c_1_0, (2, 0): R_c_2_0, (2, 1): R_c_2_1, (3, 0): R_c_3_0, (3, 1): R_c_3_1, (3, 2): R_c_3_2,
          (4, 0): R_c_4_0, (4, 1): R_c_4_1, (4, 2): R_c_4_2, (4, 3): R_c_4_3, (5, 0): R_c_5_0, (5, 1): R_c_5_1,
          (5, 2): R_c_5_2, (5, 3): R_c_5_3, (5, 4): R_c_5_4, (6, 0): R_c_6_0, (6, 1): R_c_6_1, (6, 2): R_c_6_2,
          (6, 3): R_c_6_3, (6, 4): R_c_6_4, (6, 5): R_c_6_5}

# ---------------- styling / layout geometry (pixels) ----------------
COL_CONT = {"blue": "#1f77b4", "orange": "#ff7f0e", "green": "#2ca02c"}
COL_DIAG = {"blue": "#4ea3dc", "orange": "#ffa740", "green": "#5dcb5d"}
XL = [63, 146, 229, 312, 395, 478, 560, 643]
YL = [5, 87, 169, 251, 333, 415, 497, 580]
XR = [719, 797, 874, 951, 1028, 1105, 1182, 1259]
YR = [52, 129, 205, 282, 358, 435, 512, 588]
TICKFONT = dict(family="DejaVu Serif", size=12, color="#333333")
TITLEFONT = dict(family="DejaVu Serif", size=14, color="#222222")

fig = go.Figure()
layout = {}
counter = [0]


def add_corner(XE, YE, ranges, ticks, diag, cont, labels, ytitle_x, xtitle_y):
    for r in range(7):
        for c in range(r + 1):
            counter[0] += 1
            n = counter[0]
            sx = "" if n == 1 else str(n)
            xa, ya = "x" + sx, "y" + sx
            is_diag = (r == c)
            xd = dict(domain=[XE[c] / W, XE[c + 1] / W], anchor=ya, range=ranges[c],
                      tickvals=ticks[c][0], ticktext=ticks[c][1],
                      showline=True, linecolor="#333333", linewidth=2,
                      mirror=True if is_diag else "allticks",
                      ticks="inside", ticklen=7, tickwidth=1.5, tickcolor="#707070",
                      showgrid=False, zeroline=False, tickangle=-45, automargin=False,
                      showticklabels=(r == 6), tickfont=TICKFONT, fixedrange=True)
            yd = dict(domain=[1 - YE[r + 1] / H, 1 - YE[r] / H], anchor=xa,
                      showline=True, linecolor="#333333", linewidth=2, mirror=True,
                      showgrid=False, zeroline=False, fixedrange=True, automargin=False)
            if is_diag:
                yd.update(range=[0, 1.0], ticks="", showticklabels=False)
            else:
                yd.update(range=ranges[r], tickvals=ticks[r][0], ticktext=ticks[r][1],
                          mirror="allticks", ticks="inside", ticklen=7, tickwidth=1.5,
                          tickcolor="#707070", tickangle=-45,
                          showticklabels=(c == 0), tickfont=TICKFONT)
            layout["xaxis" + sx] = xd
            layout["yaxis" + sx] = yd
            if is_diag:
                for s in SERIES:
                    xs, ys = diag[r][s]
                    fig.add_trace(go.Scatter(x=xs, y=ys, mode="lines", xaxis=xa, yaxis=ya,
                                             line=dict(color=COL_DIAG[s], width=2, shape="spline", smoothing=0.8),
                                             hoverinfo="skip", showlegend=False))
            else:
                for s in SERIES:
                    pts = cont[(r, c)][s]
                    xs = [p[0] for p in pts] + [pts[0][0]]
                    ys = [p[1] for p in pts] + [pts[0][1]]
                    fig.add_trace(go.Scatter(x=xs, y=ys, mode="lines", xaxis=xa, yaxis=ya,
                                             line=dict(color=COL_CONT[s], width=2, shape="spline", smoothing=1.0),
                                             hoverinfo="skip", showlegend=False))
    anns = []
    for i in range(7):
        anns.append(dict(text=labels[i], x=(XE[i] + XE[i + 1]) / 2 / W, y=1 - xtitle_y / H,
                         xref="paper", yref="paper", showarrow=False, xanchor="center", yanchor="middle",
                         font=TITLEFONT))
        if i > 0:
            anns.append(dict(text=labels[i], x=ytitle_x / W, y=1 - (YE[i] + YE[i + 1]) / 2 / H,
                             xref="paper", yref="paper", showarrow=False, xanchor="center", yanchor="middle",
                             textangle=-90, font=TITLEFONT))
    return anns


annotations = []
annotations += add_corner(XL, YL, RANGES_L, TICKS_L, DIAG_L, CONT_L, LABELS_L, 17, 624)
annotations += add_corner(XR, YR, RANGES_R, TICKS_R, DIAG_R, CONT_R, LABELS_R, 676, 631)

# legends (drawn as swatches + coloured text)
shapes = []
LEG = [(345, 410, [28, 55, 81], 422, 16), (981, 1043, [74, 99, 123], 1053, 15)]
for (x0, x1, ys, tx, fs) in LEG:
    for s, yy, txt in zip(SERIES, ys, LEGEND_TEXT):
        shapes.append(dict(type="line", xref="paper", yref="paper", x0=x0 / W, x1=x1 / W,
                           y0=1 - yy / H, y1=1 - yy / H, line=dict(color=COL_CONT[s], width=7)))
        annotations.append(dict(text=txt, x=tx / W, y=1 - yy / H, xref="paper", yref="paper",
                                showarrow=False, xanchor="left", yanchor="middle",
                                font=dict(family="DejaVu Sans", size=fs, color=COL_CONT[s])))

fig.update_layout(**layout)
fig.update_layout(width=W, height=H, margin=dict(l=0, r=0, t=0, b=0, autoexpand=False),
                  paper_bgcolor="white", plot_bgcolor="white",
                  annotations=annotations, shapes=shapes, showlegend=False)

fig.write_html("out.html", config={"displayModeBar": False},
               post_script="document.body.style.margin='0';document.body.style.overflow='hidden';")
